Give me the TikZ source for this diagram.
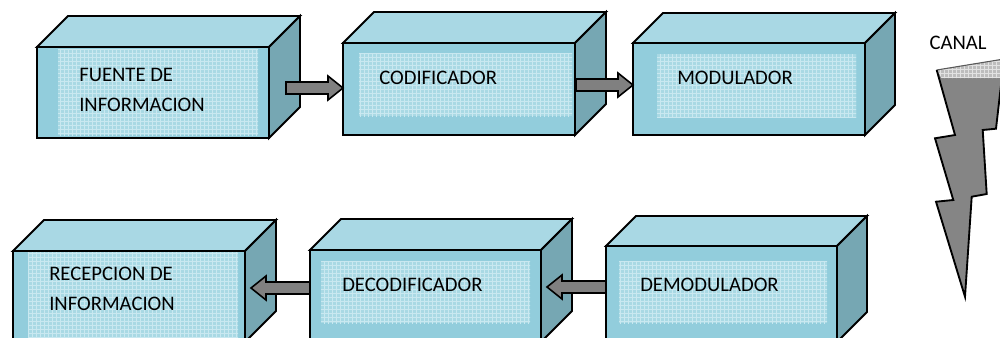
\documentclass[tikz,border=0pt]{standalone}
\usepackage{fontspec}
\setmainfont{Carlito}
\usetikzlibrary{calc,patterns}

\definecolor{frente}{HTML}{92CDDC}
\definecolor{tapa}{HTML}{A9D8E4}
\definecolor{lado}{HTML}{76A7B3}
\definecolor{texfondo}{HTML}{A9D9E4}
\definecolor{texlinea}{HTML}{C9E8F0}
\definecolor{flechagris}{HTML}{808080}
\definecolor{rayogris}{HTML}{858585}
\definecolor{bandafondo}{HTML}{BDBDBD}
\definecolor{bandalinea}{HTML}{E2E2E2}

\tikzset{
  borde/.style={draw=black, line width=1.4pt, line join=miter},
  cara/.style={borde, fill=frente, rectangle, inner sep=0pt, outer sep=0pt},
  textura/.style={fill=texfondo, postaction={pattern=grid, pattern color=texlinea}},
  etiqueta/.style={anchor=west, align=left, inner sep=0pt, font=\fontsize{15.5}{22.5}\selectfont},
  flechabloque/.style={borde, line width=1.2pt, fill=flechagris},
}

% A 3-D block: name, front face (x0,y0)-(x1,y1), depth
\newcommand\bloque[6]{%
  \node[cara, anchor=north west,
        minimum width={(#4-#2)*0.75pt}, minimum height={(#5-#3)*0.75pt}] (#1) at (#2,#3) {};
  \filldraw[borde, fill=tapa] (#1.north west) -- ++(#6,-#6)
     -- ($(#1.north east)+(#6,-#6)$) -- (#1.north east) -- cycle;
  \filldraw[borde, fill=lado] (#1.north east) -- ++(#6,-#6)
     -- ($(#1.south east)+(#6,-#6)$) -- (#1.south east) -- cycle;
}

% A thick block arrow from a tail point to a tip point (horizontal)
\newcommand\flecha[2]{%
  \path[flechabloque] let \p1=(#1), \p2=(#2), \n1={sign(\x2-\x1)} in
    (\x1,{\y1+4.5pt}) -- ({\x2-\n1*11.25pt},{\y1+4.5pt})
    -- ({\x2-\n1*11.25pt},{\y1+9pt}) -- (\x2,\y1)
    -- ({\x2-\n1*11.25pt},{\y1-9pt}) -- ({\x2-\n1*11.25pt},{\y1-4.5pt})
    -- (\x1,{\y1-4.5pt}) -- cycle;
}

\begin{document}
\begin{tikzpicture}[x=0.75pt, y=-0.75pt]
\useasboundingbox (0,0) rectangle (1000,337);

% ---- upper row ----
\bloque{fuente}{37}{47}{269}{138}{31}
\fill[textura] (58,49) rectangle (258,135);
\node[etiqueta] (tfuente) at (79,90) {FUENTE DE\\INFORMACION};

\bloque{codif}{343}{43}{575}{135}{31}
\fill[textura] (359,53) rectangle (572,116);
\node[etiqueta] (tcodif) at (379,78) {CODIFICADOR};

\bloque{modul}{633}{43}{865}{135}{30}
\fill[textura] (657,54) rectangle (856,117);
\node[etiqueta] (tmodul) at (677,78) {MODULADOR};

% ---- lower row ----
\bloque{recep}{13}{251}{245}{342}{31}
\fill[textura] (28,252) rectangle (238,342);
\node[etiqueta] (trecep) at (49,289) {RECEPCION DE\\INFORMACION};

\bloque{decod}{310}{250}{541}{342}{31}
\fill[textura] (321,261) rectangle (530,323);
\node[etiqueta] (tdecod) at (342,285) {DECODIFICADOR};

\bloque{demod}{606}{246}{837}{342}{30}
\fill[textura] (619,261) rectangle (827,323);
\node[etiqueta] (tdemod) at (640,285) {DEMODULADOR};

% ---- arrows between blocks ----
\coordinate (s1) at (286,88);
\coordinate (e1) at (codif.west |- s1);
\flecha{s1}{e1}

\coordinate (s2) at (576,85);
\coordinate (e2) at (modul.west |- s2);
\flecha{s2}{e2}

\coordinate (s3) at (demod.west |- 0,287);
\coordinate (e3) at ($(decod.east |- s3)+(6,0)$);
\flecha{s3}{e3}

\coordinate (s4) at (decod.west |- 0,288);
\coordinate (e4) at ($(recep.east |- s4)+(6,0)$);
\flecha{s4}{e4}

% ---- channel ----
\node[font=\fontsize{15.5}{18}\selectfont, inner sep=0pt] (canal) at (958,43) {CANAL};

\fill[rayogris] (936.7,70) -- (955,135) -- (935,138.3) -- (953.3,200) -- (936,201.7)
  -- (965,296.7) -- (971.7,196.7) -- (986.7,194) -- (982.7,130) -- (996,128.7)
  -- (1004,59) -- cycle;
\begin{scope}
  \clip (936.7,70) -- (1004,59) -- (1004,78) -- (941.5,78) -- cycle;
  \fill[fill=bandafondo, postaction={pattern=grid, pattern color=bandalinea}]
    (930,50) rectangle (1005,78);
\end{scope}
\draw[draw=gray!70!black, line width=0.8pt] (936.7,70) -- (1004,59);
\draw[borde] (936.7,70) -- (955,135) -- (935,138.3) -- (953.3,200) -- (936,201.7)
  -- (965,296.7) -- (971.7,196.7) -- (986.7,194) -- (982.7,130) -- (996,128.7)
  -- (1004,59);
\end{tikzpicture}
\end{document}
